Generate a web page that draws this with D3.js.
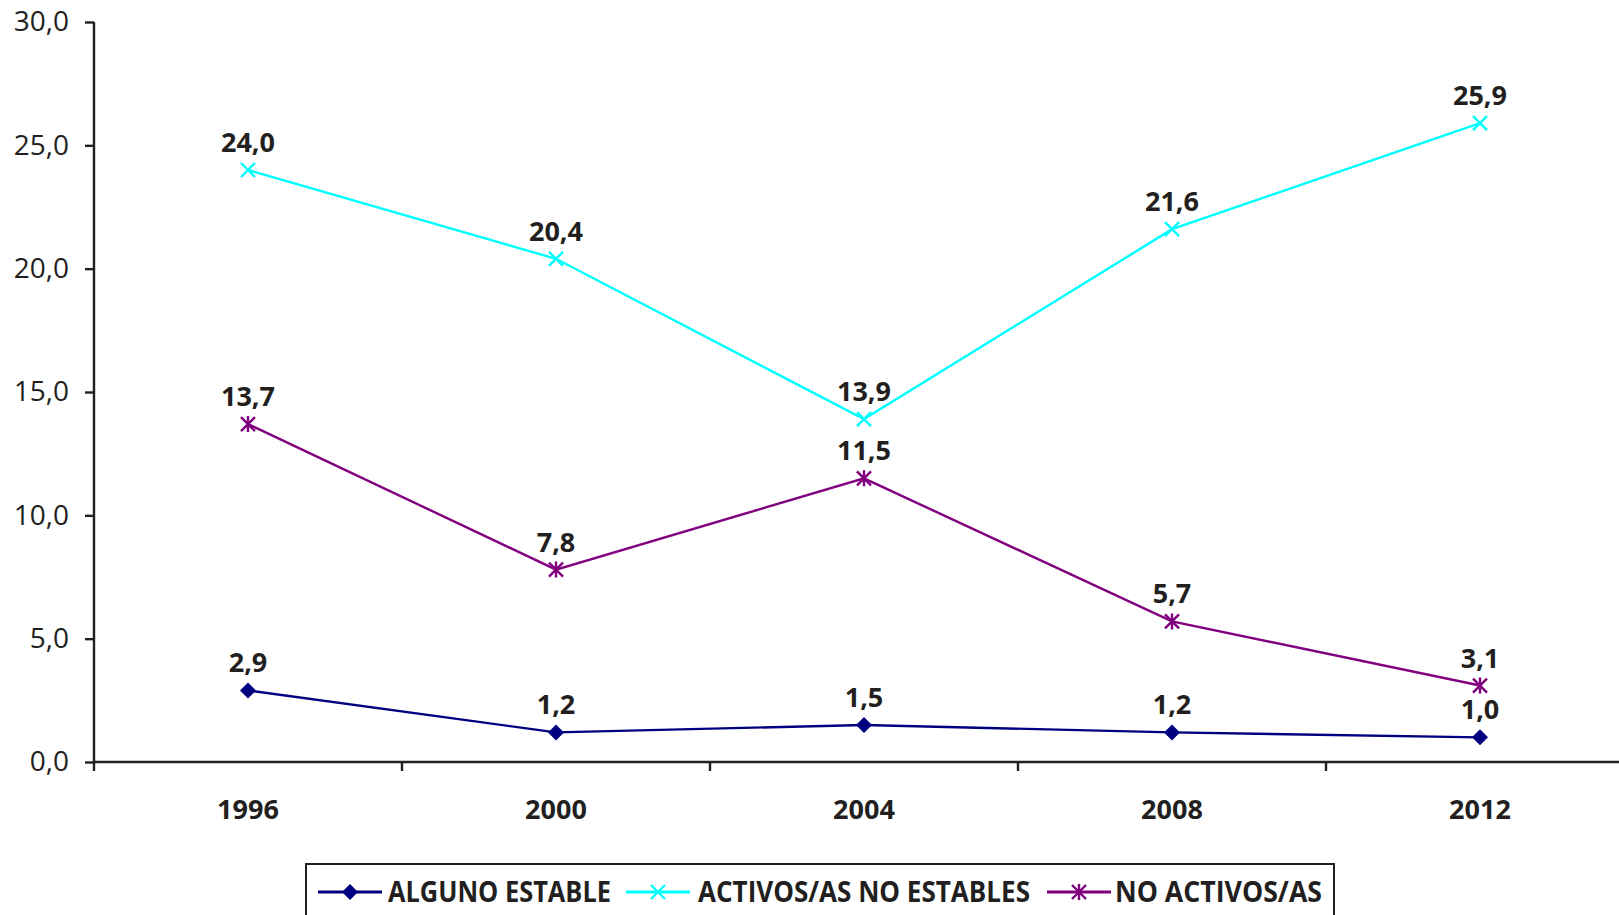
<!DOCTYPE html>
<html>
<head>
<meta charset="utf-8">
<script src="https://cdn.jsdelivr.net/npm/d3@7"></script>
<style>
  body { margin: 0; background: #fff; }
  svg { display: block; }
</style>
</head>
<body>
<script>
// data
var years = ['1996', '2000', '2004', '2008', '2012'];
var algunoEstable = [2.9, 1.2, 1.5, 1.2, 1.0];
var activosNoEstables = [24.0, 20.4, 13.9, 21.6, 25.9];
var noActivos = [13.7, 7.8, 11.5, 5.7, 3.1];
var yTicks = [0, 5, 10, 15, 20, 25, 30];

var series = [
  { name: 'ALGUNO ESTABLE', values: algunoEstable, color: '#000080', marker: 'diamond' },
  { name: 'ACTIVOS/AS NO ESTABLES', values: activosNoEstables, color: '#00FFFF', marker: 'x' },
  { name: 'NO ACTIVOS/AS', values: noActivos, color: '#800080', marker: 'star' }
];

var W = 1619, H = 915;
var plotLeft = 94, plotTop = 22, plotBottom = 762, bandW = 308;

var svg = d3.select('body').append('svg')
  .attr('width', W)
  .attr('height', H);

var x = d3.scaleBand().domain(years).range([plotLeft, plotLeft + bandW * years.length]);
var y = d3.scaleLinear().domain([0, 30]).range([plotBottom, plotTop]);
var fmt = function(v) { return d3.format('.1f')(v).replace('.', ','); };

// y axis
var yAxis = svg.append('g')
  .attr('transform', 'translate(' + plotLeft + ',0)')
  .call(d3.axisLeft(y).tickValues(yTicks).tickSize(9).tickPadding(16).tickFormat(fmt));
yAxis.select('.domain').attr('d', 'M0,' + plotTop + 'V' + (plotBottom + 9)).attr('stroke', '#231f20').attr('stroke-width', 2.4);
yAxis.selectAll('.tick line').attr('stroke', '#231f20').attr('stroke-width', 2.4);
yAxis.selectAll('.tick text')
  .attr('font-family', '"Open Sans", sans-serif')
  .attr('font-size', 28)
  .attr('fill', '#231f20');

// x axis
var xAxis = svg.append('g').attr('transform', 'translate(0,' + plotBottom + ')');
xAxis.append('line')
  .attr('x1', plotLeft).attr('x2', W + 20)
  .attr('stroke', '#231f20').attr('stroke-width', 2.4);
xAxis.selectAll('.xtick')
  .data(years.slice(1))
  .enter().append('line')
  .attr('x1', function(d) { return x(d); })
  .attr('x2', function(d) { return x(d); })
  .attr('y1', 0).attr('y2', 9)
  .attr('stroke', '#231f20').attr('stroke-width', 2.4);
xAxis.selectAll('.xlabel')
  .data(years)
  .enter().append('text')
  .attr('x', function(d) { return x(d) + x.bandwidth() / 2; })
  .attr('y', 57)
  .attr('text-anchor', 'middle')
  .attr('font-family', '"Open Sans", sans-serif')
  .attr('font-weight', 'bold')
  .attr('font-size', 27)
  .attr('fill', '#231f20')
  .text(function(d) { return d; });

var cx = function(i) { return x(years[i]) + x.bandwidth() / 2; };

// draw a marker
var drawMarker = function(g, type, color, px, py) {
  if (type === 'diamond') {
    g.append('path')
      .attr('d', 'M' + px + ',' + (py - 8) + 'L' + (px + 8) + ',' + py + 'L' + px + ',' + (py + 8) + 'L' + (px - 8) + ',' + py + 'Z')
      .attr('fill', color);
  } else if (type === 'x') {
    g.append('path')
      .attr('d', 'M' + (px - 7) + ',' + (py - 7) + 'L' + (px + 7) + ',' + (py + 7) + 'M' + (px - 7) + ',' + (py + 7) + 'L' + (px + 7) + ',' + (py - 7))
      .attr('stroke', color).attr('stroke-width', 2.4).attr('fill', 'none');
  } else {
    g.append('path')
      .attr('d', 'M' + (px - 7) + ',' + (py - 7) + 'L' + (px + 7) + ',' + (py + 7) + 'M' + (px - 7) + ',' + (py + 7) + 'L' + (px + 7) + ',' + (py - 7) + 'M' + px + ',' + (py - 8) + 'L' + px + ',' + (py + 8))
      .attr('stroke', color).attr('stroke-width', 2.4).attr('fill', 'none');
  }
};

// lines, markers, labels
var line = d3.line()
  .x(function(d, i) { return cx(i); })
  .y(function(d) { return y(d); });

series.forEach(function(s) {
  var g = svg.append('g');
  g.append('path')
    .datum(s.values)
    .attr('d', line)
    .attr('fill', 'none')
    .attr('stroke', s.color)
    .attr('stroke-width', 2.4);
  s.values.forEach(function(v, i) {
    drawMarker(g, s.marker, s.color, cx(i), y(v));
  });
  g.selectAll('.lbl')
    .data(s.values)
    .enter().append('text')
    .attr('x', function(d, i) { return cx(i); })
    .attr('y', function(d) { return y(d) - 18; })
    .attr('text-anchor', 'middle')
    .attr('font-family', '"Open Sans", sans-serif')
    .attr('font-weight', 'bold')
    .attr('font-size', 27)
    .attr('fill', '#231f20')
    .text(function(d) { return fmt(d); });
});

// legend
var legend = svg.append('g');
legend.append('rect')
  .attr('x', 306).attr('y', 864)
  .attr('width', 1028).attr('height', 80)
  .attr('fill', '#fff').attr('stroke', '#231f20').attr('stroke-width', 2);

var legendPos = [
  { lx: 318, tx: 388, tw: 223 },
  { lx: 626, tx: 698, tw: 332 },
  { lx: 1047, tx: 1115, tw: 207 }
];
var ly = 892;
series.forEach(function(s, i) {
  var p = legendPos[i];
  legend.append('line')
    .attr('x1', p.lx).attr('x2', p.lx + 64)
    .attr('y1', ly).attr('y2', ly)
    .attr('stroke', s.color).attr('stroke-width', 3);
  drawMarker(legend, s.marker, s.color, p.lx + 32, ly);
  legend.append('text')
    .attr('x', p.tx).attr('y', ly + 10)
    .attr('font-family', '"Liberation Sans Narrow", "Open Sans", sans-serif')
    .attr('font-weight', 'bold')
    .attr('font-size', 28)
    .attr('fill', '#231f20')
    .attr('textLength', p.tw)
    .attr('lengthAdjust', 'spacingAndGlyphs')
    .text(s.name);
});
</script>
</body>
</html>
